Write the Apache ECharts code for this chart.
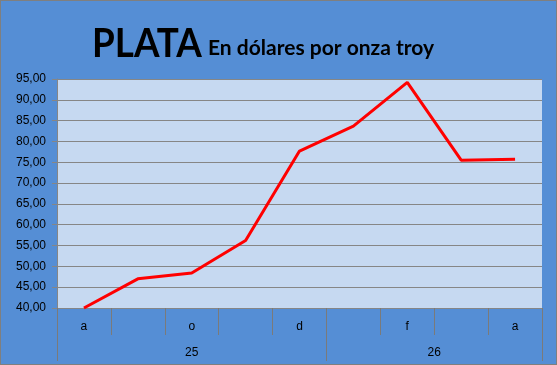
<!DOCTYPE html>
<html>
<head>
<meta charset="utf-8">
<script src="https://cdn.jsdelivr.net/npm/echarts@6/dist/echarts.min.js"></script>
<style>
html,body{margin:0;padding:0;background:#558ED5;}
#c{width:557px;height:365px;}
</style>
</head>
<body>
<div id="c"></div>
<script>
// Data
var months = ['a', 's', 'o', 'n', 'd', 'e', 'f', 'm', 'a'];
var prices = [40.0, 47.0, 48.4, 56.2, 77.7, 83.7, 94.2, 75.5, 75.7];
var years = ['25', '26'];
var yearSpans = [5, 4];
var yTicks = { min: 40, max: 95, step: 5 };

// year label positions / separators from spans
var yearBounds = [0], yearCenters = [];
var acc = 0;
for (var i = 0; i < yearSpans.length; i++) {
  yearCenters.push(acc + yearSpans[i] / 2);
  acc += yearSpans[i];
  yearBounds.push(acc);
}
var monthBounds = [];
for (var j = 0; j <= months.length; j++) monthBounds.push(j);

var GRID = '#868686';
var SEP = '#7a7a7a';
var chart = echarts.init(document.getElementById('c'), null, { renderer: 'canvas' });
chart.setOption({
  backgroundColor: '#558ED5',
  animation: false,
  graphic: [
    { type: 'rect', shape: { x: 0, y: 0, width: 557, height: 365 }, style: { fill: 'none', stroke: '#7f7f7f', lineWidth: 2 }, z: 100 },
    { type: 'text', x: 92, y: 24, scaleX: 0.92, style: { text: 'PLATA', font: 'bold 40px Lato', fill: '#000' } },
    { type: 'text', x: 208, y: 38, style: { text: 'En dólares por onza troy', font: 'bold 21px Lato', fill: '#000' } }
  ],
  grid: { left: 57, right: 15, top: 79, bottom: 57, show: true, backgroundColor: '#C6D9F1', borderWidth: 0 },
  xAxis: [
    {
      type: 'category', data: months, boundaryGap: true, position: 'bottom',
      axisLine: { show: true, lineStyle: { color: GRID, width: 1 } },
      axisTick: { show: false },
      axisLabel: { interval: 1, margin: 13, color: '#000', fontSize: 12, fontFamily: 'Liberation Sans' },
      splitLine: { show: false }
    },
    {
      type: 'value', min: 0, max: months.length, position: 'bottom',
      axisLine: { show: false },
      axisTick: { show: true, customValues: monthBounds, length: 27, lineStyle: { color: SEP } },
      axisLabel: { show: false },
      splitLine: { show: false }
    },
    {
      type: 'value', min: 0, max: months.length, position: 'bottom',
      axisLine: { show: false },
      axisTick: { show: true, customValues: yearBounds, length: 53, lineStyle: { color: SEP } },
      axisLabel: {
        customValues: yearCenters, margin: 39, color: '#000', fontSize: 12, fontFamily: 'Liberation Sans',
        formatter: function (v) { var k = yearCenters.indexOf(v); return k >= 0 ? years[k] : ''; }
      },
      splitLine: { show: false }
    }
  ],
  yAxis: {
    type: 'value', min: yTicks.min, max: yTicks.max, interval: yTicks.step,
    axisLine: { show: true, lineStyle: { color: GRID } },
    axisTick: { show: true, length: 5, lineStyle: { color: GRID } },
    axisLabel: {
      margin: 11, color: '#000', fontSize: 12, fontFamily: 'Liberation Sans',
      formatter: function (v) { return v.toFixed(2).replace('.', ','); }
    },
    splitLine: { show: true, lineStyle: { color: GRID, width: 1 } }
  },
  series: [{
    type: 'line', xAxisIndex: 0, data: prices, showSymbol: false, symbol: 'none',
    lineStyle: { color: '#FF0000', width: 3 }, clip: false
  }]
});
</script>
</body>
</html>
